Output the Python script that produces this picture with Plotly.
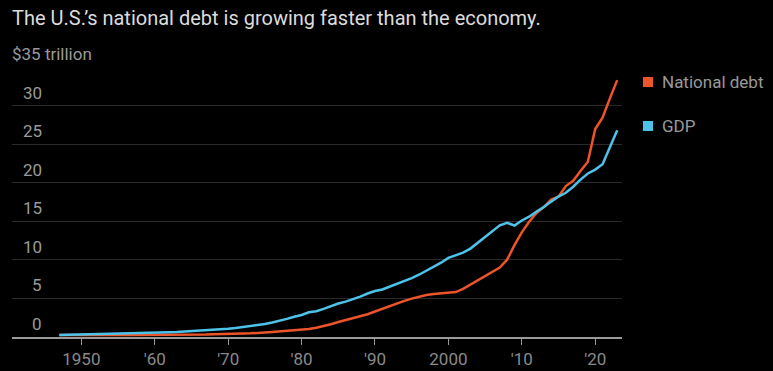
import plotly.graph_objects as go

years = list(range(1947, 2024))

debt = [0.26, 0.25, 0.25, 0.26, 0.26, 0.26, 0.27, 0.27, 0.27, 0.27,
        0.27, 0.28, 0.29, 0.29, 0.29, 0.30, 0.31, 0.32, 0.32, 0.33,
        0.34, 0.37, 0.37, 0.38, 0.41, 0.44, 0.47, 0.49, 0.58, 0.65,
        0.71, 0.78, 0.83, 0.93, 1.03, 1.20, 1.41, 1.66, 1.95, 2.21,
        2.43, 2.68, 2.95, 3.31, 3.67, 4.06, 4.41, 4.69, 4.97, 5.22,
        5.45, 5.58, 5.65, 5.70, 5.82, 6.23, 6.78, 7.38, 7.93, 8.51,
        9.01, 10.02, 11.91, 13.56, 14.95, 16.07, 16.85, 17.82, 18.20, 19.57,
        20.24, 21.52, 22.72, 26.95, 28.43, 30.93, 33.30]

gdp = [0.25, 0.27, 0.27, 0.30, 0.35, 0.37, 0.39, 0.39, 0.43, 0.45,
       0.47, 0.48, 0.52, 0.54, 0.56, 0.60, 0.64, 0.69, 0.74, 0.82,
       0.86, 0.94, 1.02, 1.07, 1.16, 1.28, 1.43, 1.55, 1.68, 1.87,
       2.08, 2.35, 2.63, 2.86, 3.21, 3.35, 3.64, 4.04, 4.34, 4.58,
       4.86, 5.24, 5.64, 5.96, 6.16, 6.52, 6.86, 7.29, 7.64, 8.07,
       8.58, 9.06, 9.63, 10.25, 10.58, 10.94, 11.46, 12.21, 13.04, 13.82,
       14.47, 14.80, 14.45, 15.10, 15.60, 16.25, 16.84, 17.55, 18.21, 18.70,
       19.48, 20.40, 21.20, 21.70, 22.40, 24.60, 26.80]

x_tick_vals = [1950, 1960, 1970, 1980, 1990, 2000, 2010, 2020]
x_tick_text = ["1950", "'60", "'70", "'80", "'90", "2000", "'10", "'20"]
y_tick_vals = [0, 5, 10, 15, 20, 25, 30, 35]
y_tick_text = ["0", "5", "10", "15", "20", "25", "30", "$35 trillion"]

title_text = "The U.S.’s national debt is growing faster than the economy."
series_names = ["National debt", "GDP"]
series_colors = ["#ec542a", "#4ec3ea"]

W, H = 773, 371
ML, MR, MT, MB = 12, 151, 67, 34
PW = W - ML - MR
PH = H - MT - MB
FS = 17


def px_x(px):
    return (px - ML) / PW


def px_y(py):
    return (H - MB - py) / PH


fig = go.Figure()
for name, vals, c in zip(series_names, [debt, gdp], series_colors):
    fig.add_trace(go.Scatter(x=years, y=vals, mode="lines", name=name, showlegend=False,
                             line=dict(color=c, width=2.5), hoverinfo="skip"))

annotations = []
for v, t in zip(y_tick_vals, y_tick_text):
    if t.startswith("$"):
        annotations.append(dict(x=px_x(10), xref="paper", xanchor="left", y=v, yref="y",
                                yanchor="bottom", yshift=1, text=t, showarrow=False,
                                font=dict(size=FS, color="#9a9a9a")))
    else:
        annotations.append(dict(x=px_x(44), xref="paper", xanchor="right", y=v,
                                yref="y", yanchor="bottom", yshift=1, text=t,
                                showarrow=False,
                                font=dict(size=FS, color="#9a9a9a")))

annotations.append(dict(x=px_x(10), xref="paper", xanchor="left", y=px_y(18), yref="paper",
                        yanchor="middle", text=title_text, showarrow=False,
                        font=dict(size=20, color="#dcdcdc")))

shapes = []
legend_y = [82, 126]
for name, c, ly in zip(series_names, series_colors, legend_y):
    shapes.append(dict(type="rect", xref="paper", yref="paper",
                       x0=px_x(643), x1=px_x(653), y0=px_y(ly - 5), y1=px_y(ly + 5),
                       fillcolor=c, line=dict(width=0)))
    annotations.append(dict(x=px_x(660), xref="paper", xanchor="left", y=px_y(ly),
                            yref="paper", yanchor="middle", text=name, showarrow=False,
                            font=dict(size=FS, color="#9a9a9a")))

fig.update_layout(
    width=W, height=H,
    margin=dict(l=ML, r=MR, t=MT, b=MB, autoexpand=False),
    paper_bgcolor="#000000", plot_bgcolor="#000000",
    font=dict(family="Roboto, Arial, sans-serif", color="#9a9a9a", size=FS),
    showlegend=False,
    annotations=annotations,
    shapes=shapes,
    xaxis=dict(range=[1940.55, 2023.65], tickvals=x_tick_vals, ticktext=x_tick_text,
               showgrid=False, zeroline=False, showline=True, linecolor="#9a9a9a",
               linewidth=2, ticks="outside", ticklen=6, tickcolor="#9a9a9a",
               tickwidth=1, tickfont=dict(size=FS, color="#8a8a8a"),
               automargin=False),
    yaxis=dict(range=[0, 35], tickvals=y_tick_vals, showticklabels=False,
               showgrid=True, gridcolor="#2a2a2a", gridwidth=1, zeroline=False,
               showline=False, automargin=False),
)
fig.write_html("out.html", config={"displayModeBar": False},
               post_script="document.body.style.margin='0';document.body.style.background='#000';")
